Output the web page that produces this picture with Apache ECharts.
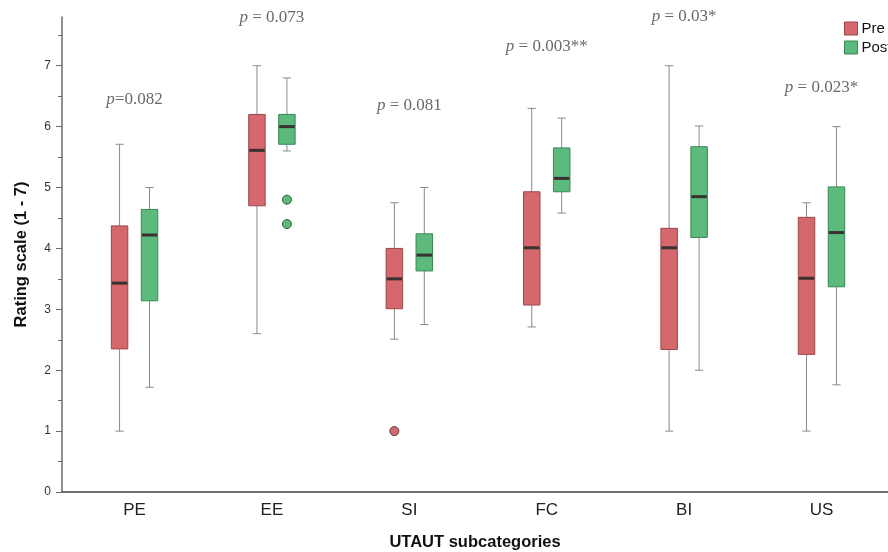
<!DOCTYPE html>
<html>
<head>
<meta charset="utf-8">
<script src="https://cdn.jsdelivr.net/npm/echarts@6/dist/echarts.min.js"></script>
<style>html,body{margin:0;padding:0;background:#fff}#c{width:888px;height:552px}</style>
</head>
<body>
<div id="c"></div>
<script>
// ---- data ----
const categories = ['PE', 'EE', 'SI', 'FC', 'BI', 'US'];
// [lowerWhisker, Q1, median, Q3, upperWhisker]
const preStats = [
  [1.0, 2.35, 3.43, 4.37, 5.71],
  [2.6, 4.70, 5.61, 6.20, 7.0],
  [2.51, 3.01, 3.50, 4.00, 4.75],
  [2.71, 3.07, 4.01, 4.93, 6.30],
  [1.0, 2.34, 4.01, 4.33, 7.0],
  [1.0, 2.26, 3.51, 4.51, 4.75]
];
const postStats = [
  [1.72, 3.14, 4.22, 4.64, 5.0],
  [5.60, 5.71, 6.00, 6.20, 6.80],
  [2.75, 3.63, 3.89, 4.24, 5.0],
  [4.58, 4.93, 5.15, 5.65, 6.14],
  [2.0, 4.18, 4.85, 5.67, 6.01],
  [1.76, 3.37, 4.26, 5.01, 6.0]
];
const preOutliers = [[2, 1.0]];
const postOutliers = [[1, 4.8], [1, 4.4]];
const pTexts = ['=0.082', ' = 0.073', ' = 0.081', ' = 0.003**', ' = 0.03*', ' = 0.023*'];
const pLabelY = [6.44, 7.79, 6.34, 7.32, 7.81, 6.65];
const yTicks = [0, 1, 2, 3, 4, 5, 6, 7];
const yMinorTicks = [0.5, 1.5, 2.5, 3.5, 4.5, 5.5, 6.5, 7.5];
const xTicks = [0, 1, 2, 3, 4, 5];

// ---- styles ----
const PRE_FILL = '#d4686c', PRE_EDGE = '#9c4749';
const POST_FILL = '#5dba7d', POST_EDGE = '#3a8656';
const SANS = 'Liberation Sans, Arial, sans-serif';
const SERIF = 'Liberation Serif, Times New Roman, serif';

function boxRenderer(offsetFrac, fill, edge) {
  return function (params, api) {
    const c = api.value(0);
    const band = api.size([1, 0])[0];
    const w = band * 0.12;
    const cap = w * 0.5;
    const x = api.coord([c, 0])[0] + band * offsetFrac;
    const y = v => api.coord([c, v])[1];
    const lo = y(api.value(1)), q1 = y(api.value(2)), md = y(api.value(3)),
          q3 = y(api.value(4)), hi = y(api.value(5));
    const wStyle = { stroke: '#8a8a8a', lineWidth: 1 };
    return {
      type: 'group',
      children: [
        { type: 'line', shape: { x1: x, y1: hi, x2: x, y2: q3 }, style: wStyle },
        { type: 'line', shape: { x1: x, y1: q1, x2: x, y2: lo }, style: wStyle },
        { type: 'line', shape: { x1: x - cap / 2, y1: hi, x2: x + cap / 2, y2: hi }, style: wStyle },
        { type: 'line', shape: { x1: x - cap / 2, y1: lo, x2: x + cap / 2, y2: lo }, style: wStyle },
        { type: 'rect', shape: { x: x - w / 2, y: q3, width: w, height: q1 - q3 },
          style: { fill: fill, stroke: edge, lineWidth: 1 } },
        { type: 'line', shape: { x1: x - w / 2 + 0.5, y1: md, x2: x + w / 2 - 0.5, y2: md },
          style: { stroke: '#383232', lineWidth: 3 } }
      ]
    };
  };
}

const chart = echarts.init(document.getElementById('c'), null, { renderer: 'canvas' });
const option = {
  animation: false,
  backgroundColor: '#fff',
  grid: { left: 62, right: 0, top: 17, bottom: 60, outerBoundsMode: 'none', containLabel: false },
  legend: {
    orient: 'vertical', left: 844, top: 21, padding: 0, itemGap: 4, itemWidth: 13, itemHeight: 13,
    icon: 'rect',
    textStyle: { fontFamily: SANS, fontSize: 15, color: '#111', padding: [0, 0, 0, -1] },
    data: [
      { name: 'Pre', itemStyle: { color: PRE_FILL, borderColor: PRE_EDGE, borderWidth: 1 } },
      { name: 'Post', itemStyle: { color: POST_FILL, borderColor: POST_EDGE, borderWidth: 1 } }
    ]
  },
  xAxis: {
    type: 'value', min: -0.528, max: 5.484,
    name: 'UTAUT subcategories', nameLocation: 'middle', nameGap: 42,
    nameTextStyle: { fontFamily: SANS, fontSize: 16.5, fontWeight: 'bold', color: '#111' },
    axisLine: { show: true, onZero: false, lineStyle: { color: '#444', width: 1.5 } },
    axisTick: { show: false },
    axisLabel: {
      customValues: xTicks, formatter: v => categories[Math.round(v)],
      fontFamily: SANS, fontSize: 17, color: '#222', margin: 10
    },
    splitLine: { show: false }
  },
  yAxis: [
    {
      type: 'value', min: 0, max: 7.8,
      name: 'Rating scale (1 - 7)', nameLocation: 'middle', nameGap: 32, nameRotate: 90,
      nameTextStyle: { fontFamily: SANS, fontSize: 16.5, fontWeight: 'bold', color: '#111' },
      axisLine: { show: true, onZero: false, lineStyle: { color: '#6a6a6a', width: 1.5 } },
      axisTick: { show: true, length: 6, customValues: yTicks, lineStyle: { color: '#6a6a6a' } },
      axisLabel: { customValues: yTicks, fontFamily: SANS, fontSize: 12, color: '#333', margin: 11 },
      splitLine: { show: false }
    },
    {
      type: 'value', min: 0, max: 7.8, position: 'left',
      axisLine: { show: false, onZero: false },
      axisTick: { show: true, length: 4, customValues: yMinorTicks, lineStyle: { color: '#6a6a6a' } },
      axisLabel: { show: false },
      splitLine: { show: false }
    }
  ],
  series: [
    {
      name: 'Pre', type: 'custom', color: PRE_FILL,
      renderItem: boxRenderer(-0.109, PRE_FILL, PRE_EDGE),
      encode: { x: 0, y: [1, 2, 3, 4, 5] },
      data: preStats.map((s, i) => [i].concat(s)), z: 3
    },
    {
      name: 'Post', type: 'custom', color: POST_FILL,
      renderItem: boxRenderer(0.109, POST_FILL, POST_EDGE),
      encode: { x: 0, y: [1, 2, 3, 4, 5] },
      data: postStats.map((s, i) => [i].concat(s)), z: 3
    },
    {
      name: 'Pre', type: 'scatter', symbol: 'circle', symbolSize: 9, symbolOffset: [-15, 0],
      itemStyle: { color: PRE_FILL, borderColor: '#5a3a3a', borderWidth: 1, opacity: 1 },
      data: preOutliers, z: 4
    },
    {
      name: 'Post', type: 'scatter', symbol: 'circle', symbolSize: 9, symbolOffset: [15, 0],
      itemStyle: { color: POST_FILL, borderColor: '#2f5a3f', borderWidth: 1, opacity: 1 },
      data: postOutliers, z: 4
    },
    {
      name: 'pvals', type: 'scatter', symbolSize: 0, silent: true, clip: false,
      data: categories.map((c, i) => [i, pLabelY[i]]),
      label: {
        show: true, position: 'inside',
        formatter: p => '{i|p}{n|' + pTexts[p.dataIndex] + '}',
        rich: {
          i: { fontFamily: SERIF, fontStyle: 'italic', fontSize: 17, color: '#444' },
          n: { fontFamily: SERIF, fontSize: 17, color: '#444' }
        }
      }
    }
  ]
};
chart.setOption(option);
</script>
</body>
</html>
